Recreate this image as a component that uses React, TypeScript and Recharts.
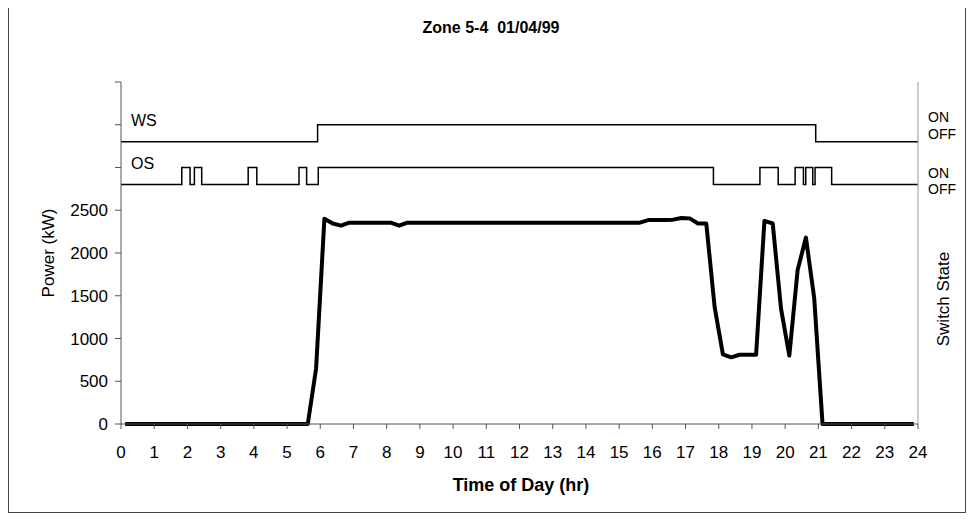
import React from 'react';
import { LineChart, Line, XAxis, YAxis } from 'recharts';

const FONT = '"Liberation Sans", Arial, sans-serif';

// hour ticks on the time axis
const HOUR_TICKS = [
  0, 1, 2, 3, 4, 5, 6, 7, 8, 9, 10, 11, 12, 13, 14, 15, 16, 17, 18, 19, 20, 21, 22, 23, 24,
];

// left axis ticks, only 0..2500 get a label
const POWER_TICKS = [0, 500, 1000, 1500, 2000, 2500, 3000, 3500, 4000];
const POWER_LABEL_MAX = 2500;

// 15 minute readings (mid-interval times)
const POWER_TIMES = [
  0.125, 0.375, 0.625, 0.875, 1.125, 1.375, 1.625, 1.875,
  2.125, 2.375, 2.625, 2.875, 3.125, 3.375, 3.625, 3.875,
  4.125, 4.375, 4.625, 4.875, 5.125, 5.375, 5.625, 5.875,
  6.125, 6.375, 6.625, 6.875, 7.125, 7.375, 7.625, 7.875,
  8.125, 8.375, 8.625, 8.875, 9.125, 9.375, 9.625, 9.875,
  10.125, 10.375, 10.625, 10.875, 11.125, 11.375, 11.625, 11.875,
  12.125, 12.375, 12.625, 12.875, 13.125, 13.375, 13.625, 13.875,
  14.125, 14.375, 14.625, 14.875, 15.125, 15.375, 15.625, 15.875,
  16.125, 16.375, 16.625, 16.875, 17.125, 17.375, 17.625, 17.875,
  18.125, 18.375, 18.625, 18.875, 19.125, 19.375, 19.625, 19.875,
  20.125, 20.375, 20.625, 20.875, 21.125, 21.375, 21.625, 21.875,
  22.125, 22.375, 22.625, 22.875, 23.125, 23.375, 23.625, 23.875,
];

const POWER_VALUES = [
  0, 0, 0, 0, 0, 0, 0, 0,
  0, 0, 0, 0, 0, 0, 0, 0,
  0, 0, 0, 0, 0, 0, 0, 650,
  2400, 2345, 2320, 2355, 2355, 2355, 2355, 2355,
  2355, 2320, 2355, 2355, 2355, 2355, 2355, 2355,
  2355, 2355, 2355, 2355, 2355, 2355, 2355, 2355,
  2355, 2355, 2355, 2355, 2355, 2355, 2355, 2355,
  2355, 2355, 2355, 2355, 2355, 2355, 2355, 2385,
  2385, 2385, 2390, 2410, 2405, 2345, 2345, 1370,
  815, 780, 810, 810, 810, 2375, 2345, 1350,
  800, 1800, 2180, 1470, 0, 0, 0, 0,
  0, 0, 0, 0, 0, 0, 0, 0,
];

// switch changes (hour, 0 = off / 1 = on)
const WS_TIMES = [0, 5.92, 20.92, 24];
const WS_STATES = [0, 1, 0, 0];

const OS_TIMES = [
  0, 1.83, 2.08, 2.21, 2.43, 3.83, 4.09, 5.36, 5.59, 5.94,
  17.84, 19.24, 19.79, 20.3, 20.55, 20.62, 20.83, 20.9, 21.4, 24,
];
const OS_STATES = [
  0, 1, 0, 1, 0, 1, 0, 1, 0, 1,
  0, 1, 0, 1, 0, 1, 0, 1, 0, 0,
];

// where the switch traces sit on the right axis
const WS_OFF_LEVEL = 3300;
const OS_OFF_LEVEL = 2800;
const SWITCH_SWING = 200;

const SWITCH_TICKS = [2750, 2935, 3390, 3590];
const SWITCH_LABELS = ['OFF', 'ON', 'OFF', 'ON'];

const powerData = POWER_TIMES.map((t, i) => ({ t, power: POWER_VALUES[i] }));
const wsData = WS_TIMES.map((t, i) => ({ t, v: WS_OFF_LEVEL + SWITCH_SWING * WS_STATES[i] }));
const osData = OS_TIMES.map((t, i) => ({ t, v: OS_OFF_LEVEL + SWITCH_SWING * OS_STATES[i] }));

const AXIS = '#555';
const FRAME = '#999';

function Overlay({
  x,
  y,
  children,
  bold,
  rotate,
  size = 16,
  anchor = 'center',
}: {
  x: number;
  y: number;
  children: React.ReactNode;
  bold?: boolean;
  rotate?: boolean;
  size?: number;
  anchor?: 'center' | 'left';
}) {
  const tx = anchor === 'center' ? '-50%' : '0';
  return (
    <div
      style={{
        position: 'absolute',
        left: x,
        top: y,
        transform: `translate(${tx}, -50%)${rotate ? ' rotate(-90deg)' : ''}`,
        fontSize: size,
        lineHeight: 1,
        fontWeight: bold ? 'bold' : 'normal',
        whiteSpace: 'pre',
        color: '#000',
      }}
    >
      {children}
    </div>
  );
}

export default function App() {
  return (
    <div
      style={{
        position: 'relative',
        top: -3,
        width: 958,
        height: 508,
        border: '1px solid #444',
        boxSizing: 'border-box',
        background: '#fff',
        fontFamily: FONT,
      }}
    >
      <LineChart width={956} height={506} margin={{ top: 76, right: 0, bottom: 58, left: 32 }}>
        <XAxis
          xAxisId="bottom"
          dataKey="t"
          type="number"
          domain={[0, 24]}
          ticks={HOUR_TICKS}
          interval={0}
          allowDataOverflow
          height={30}
          tickSize={5}
          tickMargin={17}
          axisLine={{ stroke: AXIS }}
          tickLine={{ stroke: AXIS }}
          tick={{ fill: '#000', fontSize: 17, fontFamily: FONT }}
        />
        <XAxis
          xAxisId="top"
          orientation="top"
          dataKey="t"
          type="number"
          domain={[0, 24]}
          height={0}
          tick={false}
          tickLine={false}
          axisLine={{ stroke: FRAME }}
        />
        <YAxis
          yAxisId="left"
          type="number"
          domain={[0, 4000]}
          ticks={POWER_TICKS}
          interval={0}
          width={80}
          tickSize={6}
          tickMargin={7}
          axisLine={{ stroke: AXIS }}
          tickLine={{ stroke: AXIS }}
          tickFormatter={(v: number) => (v <= POWER_LABEL_MAX ? String(v) : '')}
          tick={{ fill: '#000', fontSize: 17, fontFamily: FONT }}
        />
        <YAxis
          yAxisId="right"
          orientation="right"
          type="number"
          domain={[0, 4000]}
          ticks={SWITCH_TICKS}
          interval={0}
          width={47}
          tickSize={0}
          tickMargin={10}
          tickLine={false}
          axisLine={{ stroke: FRAME }}
          tickFormatter={(v: number) => SWITCH_LABELS[SWITCH_TICKS.indexOf(v)] ?? ''}
          tick={{ fill: '#000', fontSize: 14, fontFamily: FONT }}
        />
        <Line
          xAxisId="bottom"
          yAxisId="right"
          data={wsData}
          dataKey="v"
          type="stepAfter"
          stroke="#000"
          strokeWidth={1.5}
          dot={false}
          isAnimationActive={false}
        />
        <Line
          xAxisId="bottom"
          yAxisId="right"
          data={osData}
          dataKey="v"
          type="stepAfter"
          stroke="#000"
          strokeWidth={1.5}
          dot={false}
          isAnimationActive={false}
        />
        <Line
          xAxisId="bottom"
          yAxisId="left"
          data={powerData}
          dataKey="power"
          type="linear"
          stroke="#000"
          strokeWidth={4}
          strokeLinejoin="round"
          dot={false}
          isAnimationActive={false}
        />
      </LineChart>

      <Overlay x={482} y={22} bold>
        {'Zone 5-4  01/04/99'}
      </Overlay>
      <Overlay x={512} y={479} bold size={18}>
        Time of Day (hr)
      </Overlay>
      <Overlay x={39} y={247} rotate size={17}>
        Power (kW)
      </Overlay>
      <Overlay x={934} y={293} rotate size={17}>
        Switch State
      </Overlay>
      <Overlay x={122} y={115} anchor="left">
        WS
      </Overlay>
      <Overlay x={122} y={158} anchor="left">
        OS
      </Overlay>
    </div>
  );
}
